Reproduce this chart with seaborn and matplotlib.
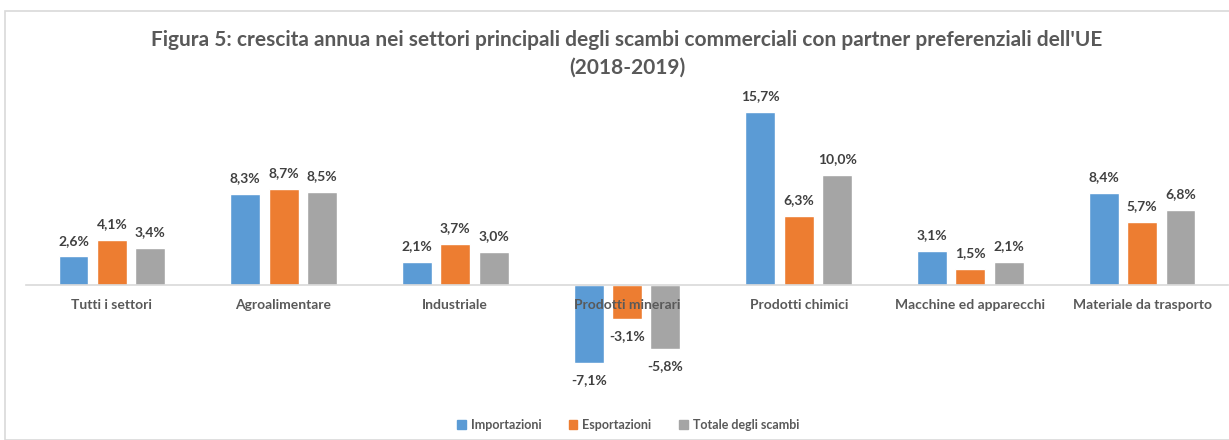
import matplotlib
matplotlib.use("Agg")
import matplotlib.pyplot as plt
import matplotlib.patches as mpatches
import seaborn as sns
import pandas as pd

settori = ["Tutti i settori", "Agroalimentare", "Industriale", "Prodotti minerari",
           "Prodotti chimici", "Macchine ed apparecchi", "Materiale da trasporto"]
serie = ["Importazioni", "Esportazioni", "Totale degli scambi"]
importazioni = [2.6, 8.3, 2.1, -7.1, 15.7, 3.1, 8.4]
esportazioni = [4.1, 8.7, 3.7, -3.1, 6.3, 1.5, 5.7]
totale = [3.4, 8.5, 3.0, -5.8, 10.0, 2.1, 6.8]
colori = ["#5B9BD5", "#ED7D31", "#A5A5A5"]

righe = []
for nome, valori in zip(serie, [importazioni, esportazioni, totale]):
    for s, v in zip(settori, valori):
        righe.append({"Settore": s, "Serie": nome, "Valore": v})
df = pd.DataFrame(righe)

sns.set_style("white")
plt.rcParams["font.family"] = ["Lato", "DejaVu Sans"]
testo = "#595959"

fig = plt.figure(figsize=(12.29, 4.4), dpi=100)
ax = fig.add_axes([26 / 1229, 45 / 440, 1202 / 1229, 297 / 440])

sns.barplot(data=df, x="Settore", y="Valore", hue="Serie", palette=colori,
            width=0.67, gap=0.22, saturation=1, ax=ax, legend=False)

ax.set_ylim(-10, 17)
ax.set_xlim(-0.5, len(settori) - 0.5)
ax.set_axisbelow(False)
for s in ["top", "right", "left"]:
    ax.spines[s].set_visible(False)
ax.spines["bottom"].set_position(("data", 0))
ax.spines["bottom"].set_color("#D9D9D9")
ax.spines["bottom"].set_linewidth(1.2)
ax.set_yticks([])
ax.tick_params(axis="x", length=0, pad=10, labelsize=10, labelcolor=testo)
for t in ax.get_xticklabels():
    t.set_fontweight("bold")
ax.set_xlabel("")
ax.set_ylabel("")

for cont in ax.containers:
    for barra in cont:
        v = barra.get_height()
        x = barra.get_x() + barra.get_width() / 2
        if v >= 0:
            ax.annotate(f"{v:.1f}%".replace(".", ","), (x, v), xytext=(0, 7),
                        textcoords="offset points", ha="center", va="bottom",
                        fontsize=10, fontweight="bold", color="#404040")
        else:
            ax.annotate(f"{v:.1f}%".replace(".", ","), (x, v), xytext=(0, -8),
                        textcoords="offset points", ha="center", va="top",
                        fontsize=10, fontweight="bold", color="#404040")

fig.text(627 / 1229, 1 - 54 / 440, "Figura 5: crescita annua nei settori principali degli scambi commerciali con partner preferenziali dell'UE\n(2018-2019)",
         ha="center", va="center", fontsize=15, fontweight="bold", color=testo,
         linespacing=1.45)

maniglie = [mpatches.Patch(color=c, label=n) for c, n in zip(colori, serie)]
leg = fig.legend(handles=maniglie, loc="center", bbox_to_anchor=(628 / 1229, 0.035), ncol=3,
                 frameon=False, handlelength=0.7, handleheight=0.7, handletextpad=0.4,
                 columnspacing=2.2, prop={"size": 9, "weight": "bold"})
for t in leg.get_texts():
    t.set_color(testo)

fig.patches.append(mpatches.Rectangle((5 / 1229, 0), 1.1, 1 - 11 / 440, transform=fig.transFigure,
                                      fill=False, edgecolor="#D9D9D9", linewidth=1.2))

fig.savefig("out.png", dpi=100)
